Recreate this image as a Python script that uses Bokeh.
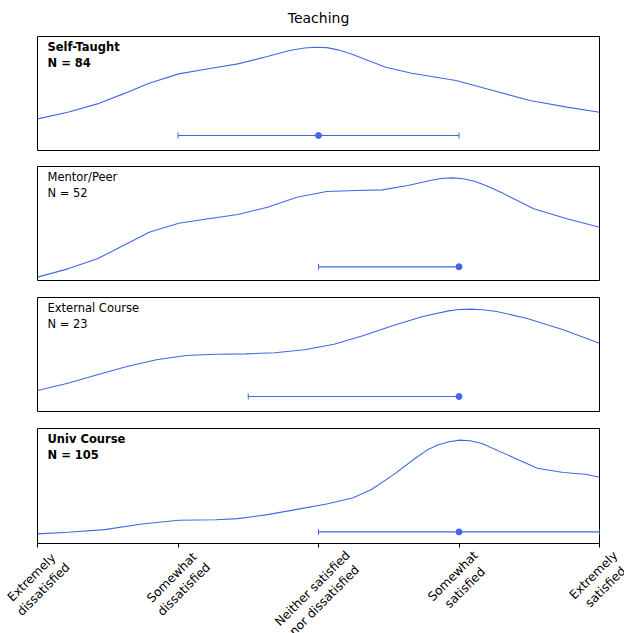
from math import pi, sqrt
from bokeh.plotting import figure
from bokeh.layouts import column, row
from bokeh.models import Range1d, Label, LinearAxis, FixedTicker
from bokeh.core.properties import value
from bokeh.embed import file_html
from bokeh.resources import INLINE

# ---------------- data ----------------
chart_title = "Teaching"
scale_values = [1, 2, 3, 4, 5]
scale_labels = [
    "Extremely\ndissatisfied",
    "Somewhat\ndissatisfied",
    "Neither satisfied\nnor dissatisfied",
    "Somewhat\nsatisfied",
    "Extremely\nsatisfied",
]
groups = ["Self-Taught", "Mentor/Peer", "External Course", "Univ Course"]
group_n = [84, 52, 23, 105]
group_bold = [True, False, False, True]

# density curves (relative height within each panel)
self_taught_x = [1.0, 1.216, 1.426, 1.61, 1.795, 2.005, 2.216, 2.426, 2.636, 2.795, 2.9,
                 2.979, 3.06, 3.137, 3.23, 3.321, 3.479, 3.663, 3.979, 4.242, 4.505, 4.768, 5.0]
self_taught_y = [0.284, 0.342, 0.414, 0.501, 0.594, 0.675, 0.719, 0.762, 0.826, 0.878, 0.900,
                 0.907, 0.903, 0.884, 0.850, 0.806, 0.733, 0.681, 0.617, 0.530, 0.443, 0.386, 0.342]

mentor_peer_x = [1.0, 1.216, 1.426, 1.611, 1.795, 2.005, 2.216, 2.426, 2.637, 2.847, 3.058,
                 3.268, 3.453, 3.637, 3.795, 3.87, 3.953, 4.03, 4.111, 4.2, 4.321, 4.532, 4.768, 5.0]
mentor_peer_y = [0.038, 0.110, 0.197, 0.313, 0.429, 0.507, 0.545, 0.583, 0.646, 0.733, 0.783,
                 0.791, 0.797, 0.835, 0.878, 0.895, 0.901, 0.893, 0.872, 0.830, 0.762, 0.632, 0.545, 0.472]

external_course_x = [1.0, 1.216, 1.426, 1.637, 1.847, 2.058, 2.268, 2.479, 2.689, 2.9,
                     3.111, 3.321, 3.532, 3.742, 3.926, 4.0, 4.084, 4.17, 4.268, 4.479, 4.742, 5.0]
external_course_y = [0.191, 0.255, 0.328, 0.400, 0.458, 0.496, 0.507, 0.510, 0.519, 0.545,
                     0.594, 0.670, 0.757, 0.835, 0.884, 0.895, 0.899, 0.893, 0.878, 0.820, 0.719, 0.603]

univ_course_x = [1.0, 1.216, 1.479, 1.742, 2.005, 2.268, 2.426, 2.637, 2.847, 3.058, 3.242,
                 3.374, 3.532, 3.689, 3.77, 3.847, 3.93, 4.005, 4.08, 4.163, 4.374, 4.558,
                 4.742, 4.9, 5.0]
univ_course_y = [0.084, 0.098, 0.121, 0.170, 0.202, 0.207, 0.216, 0.251, 0.297, 0.343, 0.395,
                 0.467, 0.597, 0.741, 0.810, 0.856, 0.885, 0.899, 0.893, 0.870, 0.755, 0.654,
                 0.617, 0.602, 0.576]

medians = [3, 4, 4, 4]
q_low = [2, 3, 2.5, 3]
q_high = [4, 4, 4, 5]

curves_x = [self_taught_x, mentor_peer_x, external_course_x, univ_course_x]
curves_y = [self_taught_y, mentor_peer_y, external_course_y, univ_course_y]

# ---------------- style / layout ----------------
BLUE = "#4169E1"
FONT = "DejaVu Sans"
FRAME_W, FRAME_H = 562, 115
BORDER_L, BORDER_R = 37, 25
border_top = [0, 15, 16, 16]
bar_level = [0.139, 0.128, 0.139, 0.101]
AXIS_BORDER = 5
LABEL_AREA_H = 85
TICK_FONT_PX = 12.2
TICK_LEN = 4
TICK_PAD = 3

# approximate DejaVu Sans advance widths (em) for centring rotated labels
GLYPH_EM = {"E": .632, "N": .748, "S": .635, "a": .613, "d": .635, "e": .615, "f": .352,
            "h": .634, "i": .278, "l": .278, "m": .974, "n": .634, "o": .612, "r": .411,
            "s": .521, "t": .392, "w": .818, "x": .592, "y": .592, " ": .318}


def text_em(s):
    return sum(GLYPH_EM.get(c, 0.6) for c in s)


x_lo, x_hi = scale_values[0], scale_values[-1]
figs = []
n_groups = len(groups)
for i, g in enumerate(groups):
    last = i == n_groups - 1
    kw = dict(title=chart_title) if i == 0 else {}
    p = figure(frame_width=FRAME_W, frame_height=FRAME_H,
               x_range=Range1d(x_lo, x_hi), y_range=Range1d(0, 1),
               x_axis_location=None, y_axis_location=None,
               toolbar_location=None, output_backend="svg",
               min_border_left=BORDER_L, min_border_right=BORDER_R,
               min_border_top=border_top[i],
               min_border_bottom=AXIS_BORDER if last else 0,
               background_fill_color="white", border_fill_color="white", **kw)
    if i == 0:
        p.title.align = "center"
        p.title.vertical_align = "top"
        p.title.text_font = FONT
        p.title.text_font_size = "14px"
        p.title.text_font_style = "normal"
        p.title.text_color = "black"
        p.title.standoff = 18
    p.grid.visible = False
    p.outline_line_color = "black"
    p.outline_line_width = 1
    p.outline_line_alpha = 1

    # density curve
    p.line(curves_x[i], curves_y[i], line_color=BLUE, line_width=1.1)

    # interquartile bar with median
    lvl = bar_level[i]
    p.segment(x0=[q_low[i]], y0=[lvl], x1=[q_high[i]], y1=[lvl], line_color=BLUE, line_width=1.2)
    p.scatter(x=[q_low[i], q_high[i]], y=[lvl, lvl], marker="dash", angle=pi / 2, size=6,
              line_color=BLUE, line_width=1)
    p.scatter(x=[medians[i]], y=[lvl], marker="circle", size=6, fill_color=BLUE, line_color=BLUE)

    # panel label
    p.add_layout(Label(x=10, y=FRAME_H - 3, x_units="screen", y_units="screen",
                       text=f"{g}\nN = {group_n[i]}", text_baseline="top", text_align="left",
                       text_font=FONT, text_font_size="11.5px",
                       text_font_style="bold" if group_bold[i] else "normal",
                       text_color="black", text_line_height=1.2))

    if last:
        ax = LinearAxis(ticker=FixedTicker(ticks=scale_values),
                        major_label_text_font_size="0px", major_label_standoff=0,
                        major_tick_out=TICK_LEN, major_tick_in=0,
                        minor_tick_out=0, minor_tick_in=0,
                        axis_line_color="black", major_tick_line_color="black")
        p.add_layout(ax, "below")
    figs.append(p)

# tick-label strip under the last panel (same x scale, widened to the full page)
unit_px = FRAME_W / (x_hi - x_lo)
lab_fig = figure(frame_width=BORDER_L + FRAME_W + BORDER_R, frame_height=LABEL_AREA_H,
                 x_range=Range1d(x_lo - BORDER_L / unit_px, x_hi + BORDER_R / unit_px),
                 y_range=Range1d(-LABEL_AREA_H, 0),
                 x_axis_location=None, y_axis_location=None,
                 toolbar_location=None, output_backend="svg",
                 min_border_left=0, min_border_right=0, min_border_top=0, min_border_bottom=0,
                 background_fill_color="white", border_fill_color="white")
lab_fig.grid.visible = False
lab_fig.outline_line_color = None

label_y = []
for lab in scale_labels:
    lines = lab.split("\n")
    w = max(text_em(s) for s in lines) * TICK_FONT_PX
    h = len(lines) * 1.0 * TICK_FONT_PX
    half = (w + h) / sqrt(2) / 2
    label_y.append(-(TICK_LEN + TICK_PAD + half - AXIS_BORDER))

lab_fig.text(x=scale_values, y=label_y, text=scale_labels, angle=pi / 4,
             anchor=value("center"), text_align="center", text_baseline="middle",
             text_font=value(FONT), text_font_size=value(f"{TICK_FONT_PX}px"),
             text_color="black", text_line_height=1.2)

layout = column(column(*figs, spacing=0), row(lab_fig, spacing=0), spacing=0)
open("out.html", "w").write(file_html(layout, INLINE))
